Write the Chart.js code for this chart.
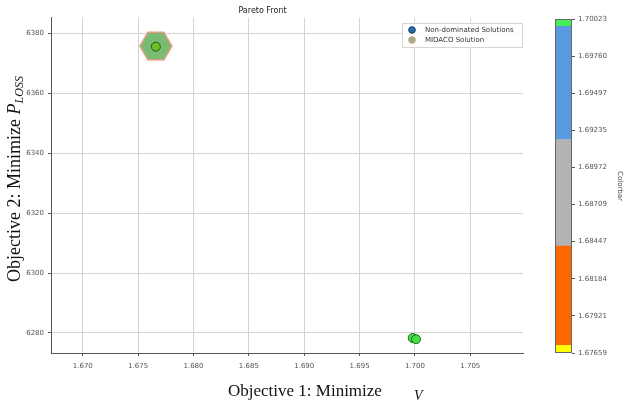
<!DOCTYPE html>
<html>
<head>
<meta charset="utf-8">
<script src="https://cdn.jsdelivr.net/npm/chart.js@4/dist/chart.umd.min.js"></script>
<style>
  body { margin: 0; background: #fff; }
  #wrap { position: relative; width: 624px; height: 407px; }
  #main { position: absolute; left: 0; top: 0; }
  #bar { position: absolute; left: 540px; top: 0; }
</style>
</head>
<body>
<div id="wrap">
  <canvas id="main" width="540" height="407"></canvas>
  <canvas id="bar" width="84" height="407"></canvas>
</div>
<script>
// objective values
const nonDomX = [1.6766, 1.6998, 1.7001];
const nonDomY = [6375.6, 6278.3, 6277.9];
const midacoX = [1.6766];
const midacoY = [6375.8];

const xTicks = [1.670, 1.675, 1.680, 1.685, 1.690, 1.695, 1.700, 1.705];
const yTicks = [6280, 6300, 6320, 6340, 6360, 6380];

// colorbar segments (lower, upper)
const cbLow = [1.67659, 1.67713, 1.68416, 1.69170, 1.69971];
const cbHigh = [1.67713, 1.68416, 1.69170, 1.69971, 1.70023];
const cbColors = ["#ffff00", "#ff6600", "#b3b3b3", "#5a9ae0", "#44ee55"];
const cbTicks = [1.67659, 1.67921, 1.68184, 1.68447, 1.68709, 1.68972, 1.69235, 1.69497, 1.69760, 1.70023];

const tickFont = { family: "DejaVu Sans", size: 7 };

// hexagon marker for MIDACO solution
function hexagon(r) {
  const c = document.createElement("canvas");
  c.width = 2 * r + 4; c.height = 2 * r + 4;
  const g = c.getContext("2d");
  g.beginPath();
  for (let i = 0; i < 6; i++) {
    const a = Math.PI / 3 * i;
    const px = r + 2 + r * Math.cos(a), py = r + 2 + r * Math.sin(a);
    i ? g.lineTo(px, py) : g.moveTo(px, py);
  }
  g.closePath();
  g.fillStyle = "rgba(105,180,100,0.9)";
  g.fill();
  g.lineWidth = 1.5;
  g.strokeStyle = "#e89a80";
  g.stroke();
  return c;
}

const xy = (xs, ys) => xs.map((x, i) => ({ x, y: ys[i] }));

const extras = {
  id: "extras",
  afterDraw(chart) {
    const { ctx } = chart;
    ctx.save();
    // legend
    ctx.fillStyle = "rgba(255,255,255,0.85)";
    ctx.strokeStyle = "#d6d6d6";
    ctx.lineWidth = 1;
    ctx.fillRect(402.5, 23.5, 120, 24);
    ctx.strokeRect(402.5, 23.5, 120, 24);
    const items = [["Non-dominated Solutions", "#1f6fb4", "#1a3550"], ["MIDACO Solution", "#8db88a", "#e8907a"]];
    items.forEach((it, i) => {
      const y = 30 + i * 10;
      ctx.beginPath();
      ctx.arc(412, y, 3.3, 0, Math.PI * 2);
      ctx.fillStyle = it[1]; ctx.fill();
      ctx.strokeStyle = it[2]; ctx.lineWidth = 1; ctx.stroke();
      ctx.fillStyle = "#333";
      ctx.font = "7px 'DejaVu Sans'";
      ctx.textBaseline = "middle";
      ctx.fillText(it[0], 425, y);
    });
    // axis titles
    ctx.fillStyle = "#111";
    ctx.textBaseline = "alphabetic";
    ctx.font = "17px 'Liberation Serif'";
    ctx.fillText("Objective 1: Minimize", 228, 396);
    ctx.font = "italic 14px 'Liberation Serif'";
    ctx.fillText("V", 414, 400);
    ctx.translate(20, 179);
    ctx.rotate(-Math.PI / 2);
    ctx.font = "18px 'Liberation Serif'";
    const t = "Objective 2: Minimize ";
    const w = ctx.measureText(t).width;
    ctx.font = "italic 18px 'Liberation Serif'";
    const wp = ctx.measureText("P").width;
    ctx.font = "italic 12px 'Liberation Serif'";
    const ws = ctx.measureText("LOSS").width;
    let x0 = -(w + wp + ws) / 2;
    ctx.font = "18px 'Liberation Serif'";
    ctx.fillText(t, x0, 0);
    ctx.font = "italic 18px 'Liberation Serif'";
    ctx.fillText("P", x0 + w, 0);
    ctx.font = "italic 12px 'Liberation Serif'";
    ctx.fillText("LOSS", x0 + w + wp, 3);
    ctx.restore();
  }
};

new Chart(document.getElementById("main"), {
  type: "scatter",
  data: {
    datasets: [
      {
        label: "Non-dominated Solutions",
        data: xy(nonDomX, nonDomY),
        backgroundColor: ["#6cbf22", "#44dd44", "#44dd44"],
        borderColor: ["#1e5a12", "#1e6a1e", "#1e6a1e"],
        borderWidth: 1,
        pointRadius: 4.5
      },
      {
        label: "MIDACO Solution",
        data: xy(midacoX, midacoY),
        pointStyle: hexagon(16),
        pointRadius: 16
      }
    ]
  },
  options: {
    responsive: false,
    animation: false,
    layout: { padding: { left: 0, right: 15, top: 0, bottom: 0 } },
    plugins: {
      legend: { display: false },
      tooltip: { enabled: false },
      title: {
        display: true,
        text: "Pareto Front",
        color: "#222",
        font: { family: "DejaVu Sans", size: 8, weight: "normal" },
        padding: { top: 6, bottom: 2 }
      }
    },
    scales: {
      x: {
        type: "linear",
        min: 1.66713,
        max: 1.70976,
        afterBuildTicks: s => { s.ticks = xTicks.map(v => ({ value: v })); },
        afterFit: s => { s.height = 54; },
        ticks: { font: tickFont, color: "#555", padding: 6, callback: v => v.toFixed(3) },
        grid: { color: "#d4d4d4", tickLength: 3, tickColor: "#555" },
        border: { color: "#555" }
      },
      y: {
        min: 6273.3,
        max: 6385.3,
        afterBuildTicks: s => { s.ticks = yTicks.map(v => ({ value: v })); },
        afterFit: s => { s.width = 51; },
        ticks: { font: tickFont, color: "#555", padding: 4, callback: v => String(v) },
        grid: { color: "#d4d4d4", tickLength: 3, tickColor: "#555" },
        border: { color: "#555" }
      }
    }
  },
  plugins: [extras]
});

const frame = {
  id: "frame",
  afterDraw(chart) {
    const { ctx, chartArea: a } = chart;
    ctx.save();
    ctx.strokeStyle = "#666";
    ctx.lineWidth = 1;
    ctx.strokeRect(a.left + 0.5, a.top + 0.5, a.right - a.left - 1, a.bottom - a.top - 1);
    ctx.restore();
  }
};

new Chart(document.getElementById("bar"), {
  type: "bar",
  data: {
    labels: ["c"],
    datasets: cbLow.map((lo, i) => ({
      data: [[lo, cbHigh[i]]],
      backgroundColor: cbColors[i],
      barPercentage: 1,
      categoryPercentage: 1
    }))
  },
  options: {
    responsive: false,
    animation: false,
    layout: { padding: { left: 15, top: 19, bottom: 54, right: 0 } },
    plugins: { legend: { display: false }, tooltip: { enabled: false } },
    scales: {
      x: { display: false, stacked: true },
      y: {
        position: "right",
        min: 1.67659,
        max: 1.70023,
        afterBuildTicks: s => { s.ticks = cbTicks.map(v => ({ value: v })); },
        afterFit: s => { s.width = 52; },
        ticks: { font: tickFont, color: "#555", padding: 3, callback: v => v.toFixed(5) },
        grid: { drawOnChartArea: false, tickLength: 3, tickColor: "#555" },
        border: { display: false },
        title: { display: true, text: "Colorbar", color: "#444", font: { family: "DejaVu Sans", size: 7 }, padding: 0 }
      }
    }
  },
  plugins: [frame]
});
</script>
</body>
</html>
